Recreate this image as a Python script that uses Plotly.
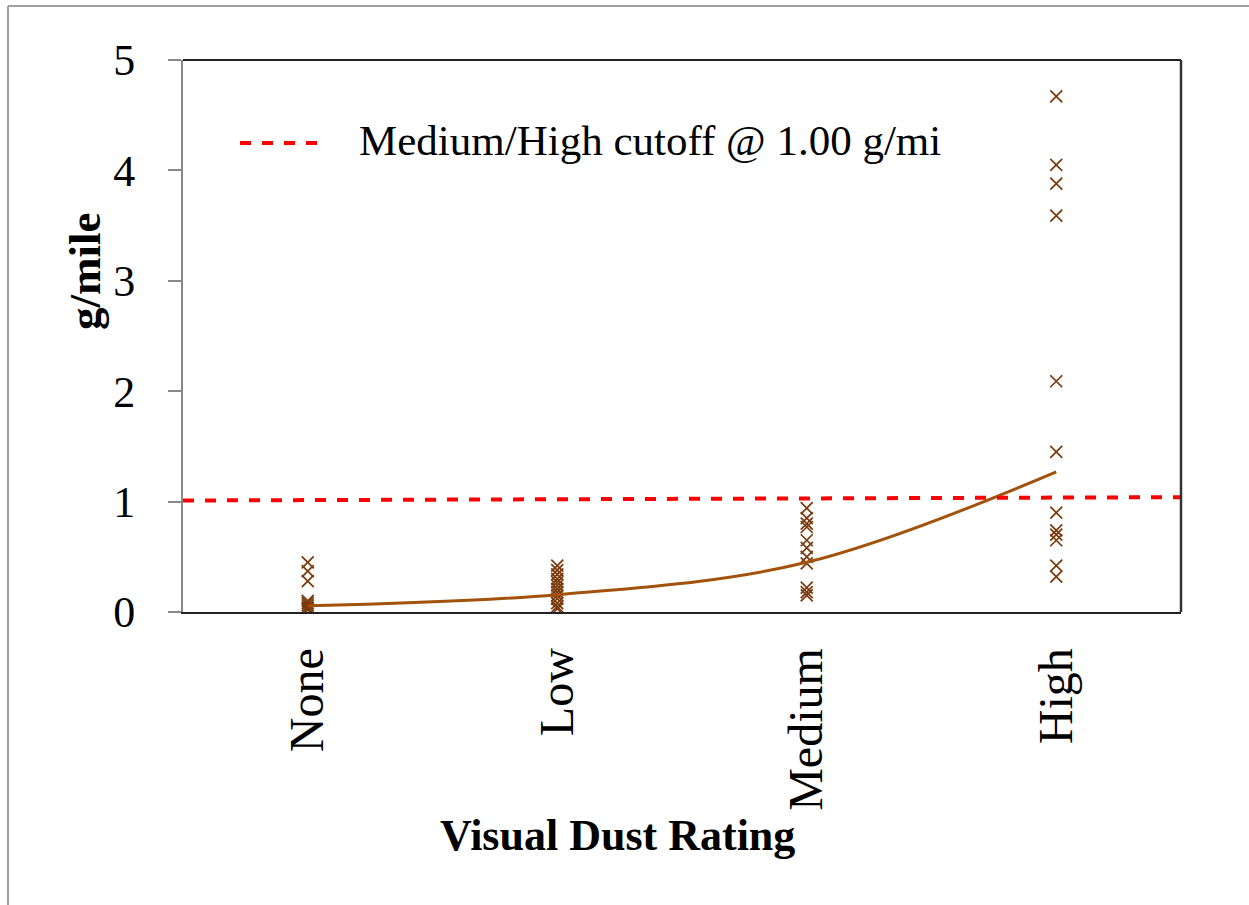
import plotly.graph_objects as go

categories = ["None", "Low", "Medium", "High"]
none_vals = [0.45, 0.37, 0.28, 0.10, 0.08, 0.06, 0.04, 0.03, 0.02]
low_vals = [0.42, 0.38, 0.34, 0.30, 0.27, 0.24, 0.21, 0.18, 0.15, 0.12, 0.08, 0.05, 0.03]
medium_vals = [0.94, 0.85, 0.80, 0.77, 0.65, 0.58, 0.50, 0.44, 0.22, 0.18, 0.15]
high_vals = [4.67, 4.05, 3.88, 3.59, 2.09, 1.45, 0.90, 0.74, 0.70, 0.65, 0.42, 0.32]
trend_vals = [0.056, 0.157, 0.45, 1.27]
cutoff_x = [-0.5, 3.5]
cutoff_y = [1.01, 1.04]
y_ticks = [0, 1, 2, 3, 4, 5]

groups = [none_vals, low_vals, medium_vals, high_vals]
xs, ys = [], []
for i, vals in enumerate(groups):
    xs += [i] * len(vals)
    ys += vals

FONT = "Liberation Serif"
MARK = "#7A3A0E"
TREND = "#A3520C"

fig = go.Figure()
fig.add_trace(go.Scatter(x=xs, y=ys, mode="markers",
                         marker=dict(symbol="x-thin-open", size=12, color=MARK,
                                     line=dict(color=MARK, width=1.7)),
                         showlegend=False))
fig.add_trace(go.Scatter(x=list(range(len(categories))), y=trend_vals, mode="lines",
                         line=dict(color=TREND, width=3, shape="spline"),
                         showlegend=False))
fig.add_trace(go.Scatter(x=cutoff_x, y=cutoff_y, mode="lines",
                         line=dict(color="#FF0000", width=4, dash="11px,11px"),
                         showlegend=False, cliponaxis=False))

L, R, T, B = 183, 68, 60, 293
W, H = 1249, 905
pw, ph = W - L - R, H - T - B

def px(xp):
    return (xp - L) / pw

def py(yp):
    return (H - B - yp) / ph

shapes = [
    dict(type="line", xref="paper", yref="paper", x0=px(8), x1=px(8), y0=py(6), y1=py(920),
         line=dict(color="#A0A0A0", width=2)),
    dict(type="line", xref="paper", yref="paper", x0=px(8), x1=px(1300), y0=py(6), y1=py(6),
         line=dict(color="#A0A0A0", width=2)),
    dict(type="line", xref="paper", yref="paper", x0=0, x1=1, y0=1, y1=1,
         line=dict(color="#222222", width=2)),
    dict(type="line", xref="paper", yref="paper", x0=1, x1=1, y0=0, y1=1,
         line=dict(color="#333333", width=2.5)),
    dict(type="line", xref="paper", yref="paper", x0=px(240), x1=px(320), y0=py(143), y1=py(143),
         line=dict(color="#FF0000", width=4, dash="11px,11px")),
]

annotations = [
    dict(text="Medium/High cutoff @ 1.00 g/mi", xref="paper", yref="paper",
         x=px(357), y=py(140), xanchor="left", yanchor="middle", showarrow=False,
         font=dict(family=FONT, size=43, color="black")),
    dict(text="<b>Visual Dust Rating</b>", xref="paper", yref="paper",
         x=px(617), y=py(835), xanchor="center", yanchor="middle", showarrow=False,
         font=dict(family=FONT, size=44, color="black")),
    dict(text="<b>g/mile</b>", xref="paper", yref="paper", textangle=-90,
         x=px(85), y=py(272), xanchor="center", yanchor="middle", showarrow=False,
         font=dict(family=FONT, size=45, color="black")),
]

fig.update_layout(
    width=W, height=H,
    margin=dict(l=L, r=R, t=T, b=B),
    paper_bgcolor="white", plot_bgcolor="white",
    shapes=shapes, annotations=annotations,
    showlegend=False,
    xaxis=dict(range=[-0.5, 3.5], tickmode="array", tickvals=list(range(len(categories))),
               ticktext=categories, tickangle=-90, showgrid=False, zeroline=False,
               showline=True, linecolor="#222222", linewidth=2, ticks="",
               ticklabelstandoff=15,
               tickfont=dict(family=FONT, size=48, color="black")),
    yaxis=dict(range=[0, 5], tickmode="array", tickvals=y_ticks, showgrid=False,
               zeroline=False, showline=True, linecolor="#888888", linewidth=2,
               ticks="outside", ticklen=13, tickcolor="#888888", tickwidth=2,
               ticklabelstandoff=24,
               tickfont=dict(family=FONT, size=44, color="black")),
)

fig.write_html("out.html")
